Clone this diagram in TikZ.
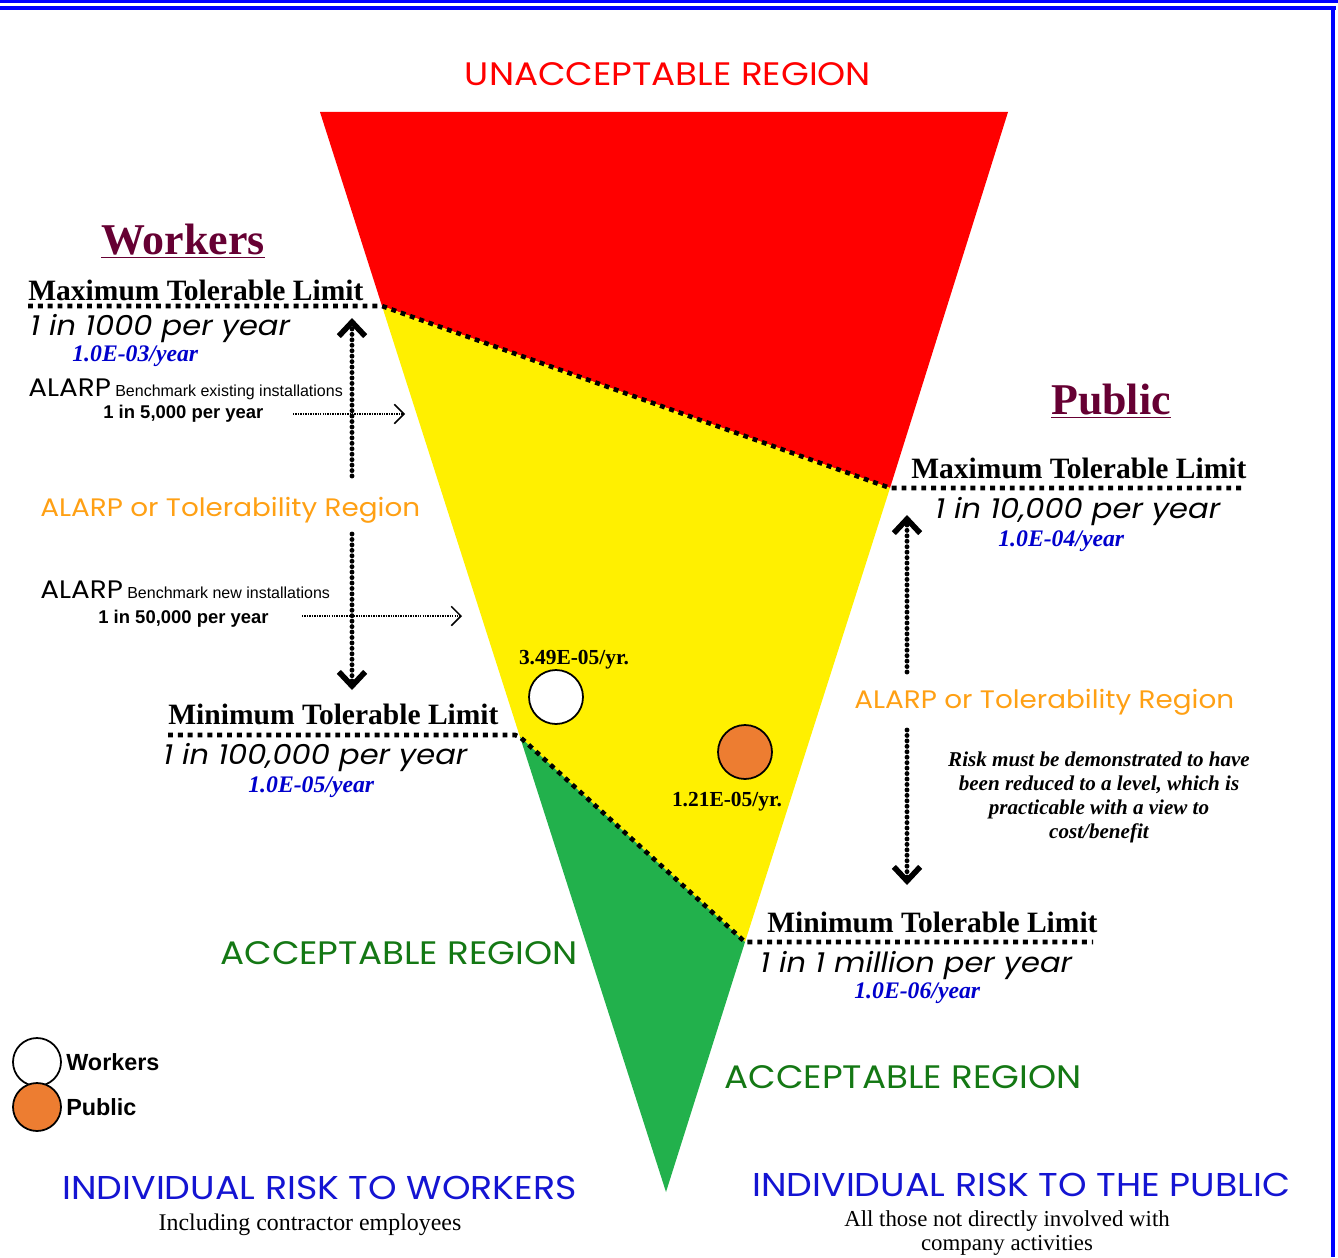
\documentclass[tikz,border=0pt]{standalone}
\usepackage{fontspec}
\setmainfont{Liberation Serif}
\setsansfont{Liberation Sans}
\newfontfamily\gothic{Poppins}[FakeStretch=1.1]
\usetikzlibrary{arrows.meta}
\definecolor{riskred}{RGB}{255,0,0}
\definecolor{riskyellow}{RGB}{255,240,0}
\definecolor{riskgreen}{RGB}{34,177,76}
\definecolor{dotorange}{RGB}{237,125,49}
\definecolor{alarporange}{RGB}{255,160,20}
\definecolor{accgreen}{RGB}{20,120,20}
\definecolor{headmaroon}{RGB}{102,0,51}
\definecolor{valblue}{RGB}{0,0,204}
\definecolor{titleblue}{RGB}{20,20,210}
\definecolor{frameblue}{RGB}{0,0,255}
\tikzset{
  txt/.style={inner sep=0pt, anchor=base west},
  heading/.style={txt, anchor=base, font=\bfseries\fontsize{25}{28}\selectfont, text=headmaroon},
  limitname/.style={txt, font=\bfseries\fontsize{16.8}{19}\selectfont},
  rate/.style={txt, font=\gothic\itshape\fontsize{15.8}{18}\selectfont},
  rateval/.style={txt, font=\bfseries\itshape\fontsize{13.5}{16}\selectfont, text=valblue},
  regionname/.style={txt, font=\gothic\fontsize{18.5}{21}\selectfont},
  alarpname/.style={txt, font=\gothic\fontsize{14.4}{17}\selectfont, text=alarporange},
  limitline/.style={line width=2.6pt, dash pattern=on 2.8pt off 2.8pt},
  bigarrow/.style={line width=2.8pt, line cap=round, dash pattern=on 0pt off 3.1pt,
    -{Straight Barb[length=8pt, width=15pt, line width=3.2pt]}},
  smallarrow/.style={line width=0.9pt, dash pattern=on 0.8pt off 0.6pt,
    -{Straight Barb[length=5.5pt, width=11pt, line width=0.9pt]}},
  riskdot/.style={circle, draw, line width=1pt, minimum size=1.08cm, inner sep=0pt}
}
\begin{document}
\begin{tikzpicture}[x=0.02cm, y=-0.02cm]
  \useasboundingbox (0,0) rectangle (1338,1257);
  % frame
  \fill[frameblue] (0,0) rectangle (1338,3);
  \fill[frameblue] (0,6.5) rectangle (1336,10);
  \fill[frameblue] (1331,7) rectangle (1335,1257);

  % risk triangle
  \coordinate (TL) at (320,112);
  \coordinate (TR) at (1008,112);
  \coordinate (AP) at (666,1192);
  \coordinate (WMax) at (382,306);
  \coordinate (PMax) at (890,488);
  \coordinate (WMin) at (520,737);
  \coordinate (PMin) at (745,942);
  \fill[riskred] (TL) -- (TR) -- (PMax) -- (WMax) -- cycle;
  \fill[riskyellow] (WMax) -- (PMax) -- (PMin) -- (WMin) -- cycle;
  \fill[riskgreen] (WMin) -- (PMin) -- (AP) -- cycle;

  % tolerable limits
  \coordinate (WMaxEnd) at (28,306);
  \coordinate (PMaxEnd) at (1243,488);
  \coordinate (WMinEnd) at (168,735);
  \coordinate (WMinBend) at (515,735);
  \coordinate (PMinEnd) at (1093,942);
  \draw[limitline] (WMaxEnd) -- (WMax) -- (PMax) -- (PMaxEnd);
  \draw[limitline] (WMinEnd) -- (WMinBend) -- (WMin) -- (PMin) -- (PMinEnd);

  \node[regionname, anchor=base, text=riskred] (UR) at (668,86) {UNACCEPTABLE REGION};

  % workers side
  \node[heading] (WH) at (183,254) {\underline{Workers}};
  \node[limitname] (WMaxT) at (28,300) {Maximum Tolerable Limit};
  \node[rate] (WMaxR) at (30,335) {1 in 1000 per year};
  \node[rateval] (WMaxV) at (72,361) {1.0E-03/year};
  \node[txt] (WB1) at (28,396) {{\gothic\fontsize{14.4}{16}\selectfont ALARP} {\sffamily\fontsize{9.1}{11}\selectfont Benchmark existing installations}};
  \node[txt, font=\sffamily\bfseries\fontsize{10.5}{12}\selectfont] (WB1R) at (103,418) {1 in 5,000 per year};
  \node[alarpname] (WAL) at (40,516) {ALARP or Tolerability Region};
  \node[txt] (WB2) at (40,598) {{\gothic\fontsize{14.4}{16}\selectfont ALARP} {\sffamily\fontsize{9.1}{11}\selectfont Benchmark new installations}};
  \node[txt, font=\sffamily\bfseries\fontsize{10.5}{12}\selectfont] (WB2R) at (98,623) {1 in 50,000 per year};
  \node[limitname] (WMinT) at (168,724) {Minimum Tolerable Limit};
  \node[rate] (WMinR) at (163,764) {1 in 100,000 per year};
  \node[rateval] (WMinV) at (248,792) {1.0E-05/year};
  \node[regionname, text=accgreen] (WAcc) at (220,964) {ACCEPTABLE REGION};

  \coordinate (WUpA) at (352,476);
  \coordinate (WUpB) at (352,318);
  \coordinate (WDnA) at (352,534);
  \coordinate (WDnB) at (352,690);
  \draw[bigarrow] (WUpA) -- (WUpB);
  \draw[bigarrow] (WDnA) -- (WDnB);
  \coordinate (WB1A) at (293,414);
  \coordinate (WB1B) at (405,414);
  \coordinate (WB2A) at (302,616);
  \coordinate (WB2B) at (462,616);
  \draw[smallarrow] (WB1A) -- (WB1B);
  \draw[smallarrow] (WB2A) -- (WB2B);

  % risk results
  \node[riskdot, fill=white] (WDot) at (556,697) {};
  \node[txt, anchor=base, font=\bfseries\fontsize{12.2}{14}\selectfont] (WDotT) at (574,664) {3.49E-05/yr.};
  \node[riskdot, fill=dotorange] (PDot) at (745,752) {};
  \node[txt, anchor=base, font=\bfseries\fontsize{12.2}{14}\selectfont] (PDotT) at (727,806) {1.21E-05/yr.};

  % public side
  \node[heading] (PH) at (1111,414) {\underline{Public}};
  \node[limitname] (PMaxT) at (911,478) {Maximum Tolerable Limit};
  \node[rate] (PMaxR) at (935,518) {1 in 10,000 per year};
  \node[rateval] (PMaxV) at (998,546) {1.0E-04/year};
  \node[alarpname] (PAL) at (854,708) {ALARP or Tolerability Region};
  \node[txt, anchor=north, align=center, font=\bfseries\itshape\fontsize{12}{13.6}\selectfont] (PRisk) at (1099,752)
    {Risk must be demonstrated to have\\been reduced to a level, which is\\practicable with a view to\\cost/benefit};
  \node[limitname] (PMinT) at (767,932) {Minimum Tolerable Limit};
  \node[rate] (PMinR) at (760,972) {1 in 1 million per year};
  \node[rateval] (PMinV) at (854,998) {1.0E-06/year};
  \node[regionname, text=accgreen] (PAcc) at (724,1088) {ACCEPTABLE REGION};

  \coordinate (PUpA) at (907,672);
  \coordinate (PUpB) at (907,515);
  \coordinate (PDnA) at (907,730);
  \coordinate (PDnB) at (907,885);
  \draw[bigarrow] (PUpA) -- (PUpB);
  \draw[bigarrow] (PDnA) -- (PDnB);

  % legend
  \node[riskdot, fill=white, minimum size=0.96cm] (LW) at (37,1062) {};
  \node[riskdot, fill=dotorange, minimum size=0.96cm] (LP) at (37,1107) {};
  \node[txt, font=\sffamily\bfseries\fontsize{13.3}{15}\selectfont] (LWT) at (66,1070) {Workers};
  \node[txt, font=\sffamily\bfseries\fontsize{13.3}{15}\selectfont] (LPT) at (66,1115) {Public};

  % footers
  \node[regionname, text=titleblue, font=\gothic\fontsize{18.8}{21}\selectfont] (WFoot) at (62,1199) {INDIVIDUAL RISK TO WORKERS};
  \node[txt, anchor=base, font=\fontsize{13.6}{15.3}\selectfont] (WFootS) at (310,1230) {Including contractor employees};
  \node[regionname, text=titleblue, font=\gothic\fontsize{18.8}{21}\selectfont] (PFoot) at (752,1196) {INDIVIDUAL RISK TO THE PUBLIC};
  \node[txt, anchor=north, align=center, font=\fontsize{13}{14}\selectfont] (PFootS) at (1007,1210) {All those not directly involved with\\company activities};
\end{tikzpicture}
\end{document}
